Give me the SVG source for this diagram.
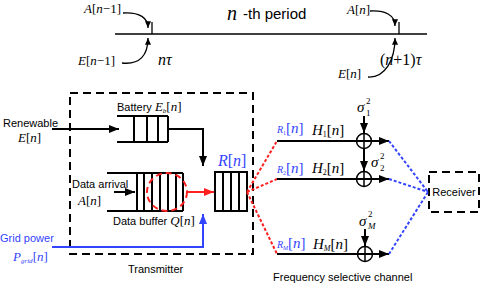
<svg xmlns="http://www.w3.org/2000/svg" width="485" height="286" viewBox="0 0 485 286">
<style>
.s{font-family:"Liberation Sans",Arial,sans-serif;font-size:11px;fill:#000}
.m{font-family:"Liberation Serif","Times New Roman",serif;font-size:13px;fill:#000}
.i{font-style:italic}
.b{fill:#3344ff}
.ln{stroke:#000;stroke-width:2;fill:none}
.thin{stroke:#000;stroke-width:1.3;fill:none}
.dash{stroke:#000;stroke-width:2;fill:none;stroke-dasharray:8 5}
.rd{stroke:#ff2020;stroke-width:2;fill:none;stroke-dasharray:3 2}
.bd{stroke:#3344ff;stroke-width:2;fill:none;stroke-dasharray:3 2}
.pl{stroke:#000;stroke-width:1.5;fill:none}
</style>
<defs>
<marker id="ah" viewBox="0 0 10 8" refX="10" refY="4" markerWidth="10" markerHeight="8" orient="auto" markerUnits="userSpaceOnUse"><path d="M0,0 L10,4 L0,8 z" fill="#000"/></marker>
<marker id="ahs" viewBox="0 0 8 7" refX="8" refY="3.5" markerWidth="7" markerHeight="6" orient="auto" markerUnits="userSpaceOnUse"><path d="M0,0 L8,3.5 L0,7 z" fill="#000"/></marker>
<marker id="ahb" viewBox="0 0 10 8" refX="10" refY="4" markerWidth="10" markerHeight="8" orient="auto" markerUnits="userSpaceOnUse"><path d="M0,0 L10,4 L0,8 z" fill="#3344ff"/></marker>
<marker id="ahr" viewBox="0 0 10 8" refX="10" refY="4" markerWidth="10" markerHeight="8" orient="auto" markerUnits="userSpaceOnUse"><path d="M0,0 L10,4 L0,8 z" fill="#ff2020"/></marker>
</defs>

<g id="timeline">
<line class="thin" x1="115" y1="34" x2="427" y2="34"/>
<line class="thin" x1="152" y1="22" x2="152" y2="34"/>
<line class="thin" x1="399" y1="22" x2="399" y2="34"/>
<path class="thin" d="M123,13 C140,12 148,18 148,28" marker-end="url(#ahs)"/>
<path class="thin" d="M122,63 C140,65 148,55 148,38" marker-end="url(#ahs)"/>
<path class="thin" d="M370,11 C385,10 395,15 395,26" marker-end="url(#ahs)"/>
<path class="thin" d="M368,77 C385,78 395,60 395,38" marker-end="url(#ahs)"/>
<text class="m" x="121" y="13" text-anchor="end"><tspan class="i">A</tspan>[<tspan class="i">n</tspan>−1]</text>
<text class="m" x="115" y="65" text-anchor="end"><tspan class="i">E</tspan>[<tspan class="i">n</tspan>−1]</text>
<text class="m" x="158" y="65" style="font-size:16px"><tspan class="i">nτ</tspan></text>
<text class="m" x="380" y="65" style="font-size:16px">(<tspan class="i">n</tspan>+1)<tspan class="i">τ</tspan></text>
<text class="m" x="347" y="14"><tspan class="i">A</tspan>[<tspan class="i">n</tspan>]</text>
<text class="m" x="338" y="78"><tspan class="i">E</tspan>[<tspan class="i">n</tspan>]</text>
<text class="m i" x="227" y="20" style="font-size:20px">n</text>
<text class="s" x="243" y="19" style="font-size:15px">-th period</text>
</g>

<g id="transmitter">
<rect class="dash" x="70" y="93" width="183" height="161"/>
<text class="s" x="128" y="273">Transmitter</text>
</g>

<g id="battery">
<path class="ln" d="M117,116 H168 M117,142 H168 M134,116 V142 M147,116 V142 M158,116 V142 M168,116 V142"/>
<text class="s" x="117" y="111">Battery <tspan class="m i">E</tspan><tspan class="m i" style="font-size:7px" dy="2">b</tspan><tspan class="m" dy="-2">[<tspan class="i">n</tspan>]</tspan></text>
</g>

<g id="renewable">
<text class="s" x="3" y="127">Renewable</text>
<text class="m" x="18" y="142"><tspan class="i">E</tspan>[<tspan class="i">n</tspan>]</text>
</g>

<g id="data-buffer">
<path class="ln" d="M107,173 H183 M107,211 H183 M137,173 V211 M144,173 V211 M152,173 V211 M160,173 V211 M168,173 V211 M176,173 V211 M183,173 V211"/>
<ellipse cx="167" cy="192" rx="20" ry="19" fill="none" stroke="#ff2020" stroke-width="2" stroke-dasharray="6 4"/>
<text class="s" x="113" y="225">Data buffer <tspan class="m i">Q</tspan><tspan class="m">[<tspan class="i">n</tspan>]</tspan></text>
</g>

<g id="data-arrival">
<text class="s" x="72" y="188">Data arrival</text>
<text class="m" x="78" y="205"><tspan class="i">A</tspan>[<tspan class="i">n</tspan>]</text>
</g>

<g id="grid-power">
<text class="s b" x="0" y="242">Grid power</text>
<text class="m b" x="13" y="261"><tspan class="i">P</tspan><tspan class="i" style="font-size:7px" dy="2">grid</tspan><tspan dy="-2">[<tspan class="i">n</tspan>]</tspan></text>
</g>

<g id="rate-queue">
<path class="ln" d="M215,172 H247 V211 H215 Z M223,172 V211 M231,172 V211 M239,172 V211"/>
<text class="m b" x="218" y="166" style="font-size:16px"><tspan class="i">R</tspan>[<tspan class="i">n</tspan>]</text>
</g>

<g id="channel-1">
<circle class="pl" cx="364" cy="141" r="7.5"/>
<path class="pl" d="M364,133.5 V148.5"/>
<text class="m b" x="277" y="133" style="font-size:15px"><tspan class="i" style="font-size:10px">R</tspan><tspan style="font-size:6px" dy="2">1</tspan><tspan dy="-2">[<tspan class="i">n</tspan>]</tspan></text>
<text class="m" x="312" y="135" style="font-size:15px"><tspan class="i">H</tspan><tspan style="font-size:8px" dy="2">1</tspan><tspan dy="-2">[<tspan class="i">n</tspan>]</tspan></text>
<text class="m i" x="357" y="112" style="font-size:15px">σ</text>
<text class="m" x="366" y="104" style="font-size:9px">2</text>
<text class="m" x="366" y="116" style="font-size:9px">1</text>
</g>

<g id="channel-2">
<circle class="pl" cx="364" cy="179" r="7.5"/>
<path class="pl" d="M364,171.5 V186.5"/>
<text class="m b" x="277" y="173" style="font-size:15px"><tspan class="i" style="font-size:10px">R</tspan><tspan style="font-size:6px" dy="2">2</tspan><tspan dy="-2">[<tspan class="i">n</tspan>]</tspan></text>
<text class="m" x="312" y="173" style="font-size:15px"><tspan class="i">H</tspan><tspan style="font-size:8px" dy="2">2</tspan><tspan dy="-2">[<tspan class="i">n</tspan>]</tspan></text>
<text class="m i" x="371" y="167" style="font-size:15px">σ</text>
<text class="m" x="380" y="159" style="font-size:9px">2</text>
<text class="m" x="380" y="171" style="font-size:9px">2</text>
</g>

<g id="channel-M">
<circle class="pl" cx="365" cy="254" r="7.5"/>
<path class="pl" d="M365,246.5 V261.5"/>
<text class="m b" x="277" y="248" style="font-size:15px"><tspan class="i" style="font-size:10px">R</tspan><tspan class="i" style="font-size:6px" dy="2">M</tspan><tspan dy="-2">[<tspan class="i">n</tspan>]</tspan></text>
<text class="m" x="313" y="249" style="font-size:15px"><tspan class="i">H</tspan><tspan class="i" style="font-size:8px" dy="2">M</tspan><tspan dy="-2">[<tspan class="i">n</tspan>]</tspan></text>
<text class="m i" x="359" y="226" style="font-size:15px">σ</text>
<text class="m" x="368" y="217" style="font-size:9px">2</text>
<text class="m i" x="368" y="229" style="font-size:9px">M</text>
<text class="s" x="273" y="281">Frequency selective channel</text>
</g>

<g id="receiver">
<rect class="dash" x="429" y="172" width="50" height="40"/>
<text class="s" x="454" y="196" text-anchor="middle">Receiver</text>
</g>

<g id="connectors">
<line class="ln" x1="52" y1="129" x2="119" y2="129" marker-end="url(#ah)"/>
<path class="ln" d="M168,129 H203 V166" marker-end="url(#ah)"/>
<line class="ln" x1="114" y1="192" x2="135" y2="192" marker-end="url(#ah)"/>
<line x1="187" y1="192" x2="214" y2="192" stroke="#ff2020" stroke-width="2" marker-end="url(#ahr)"/>
<path d="M52,247 H203 V214" fill="none" stroke="#3344ff" stroke-width="2" marker-end="url(#ahb)"/>
<path class="rd" d="M247,192 L277,141 M247,192 L277,179 M247,192 L277,254"/>
<line class="ln" x1="277" y1="141" x2="389" y2="141" marker-end="url(#ah)"/>
<line class="ln" x1="277" y1="179" x2="389" y2="179" marker-end="url(#ah)"/>
<line class="ln" x1="277" y1="254" x2="389" y2="254" marker-end="url(#ah)"/>
<line class="ln" x1="364" y1="116" x2="364" y2="133" marker-end="url(#ah)"/>
<line class="ln" x1="364" y1="149" x2="364" y2="171" marker-end="url(#ah)"/>
<line class="ln" x1="365" y1="229" x2="365" y2="246" marker-end="url(#ah)"/>
<path class="bd" d="M389,141 L428,192 M389,179 L428,192 M389,254 L428,192"/>
</g>
</svg>
